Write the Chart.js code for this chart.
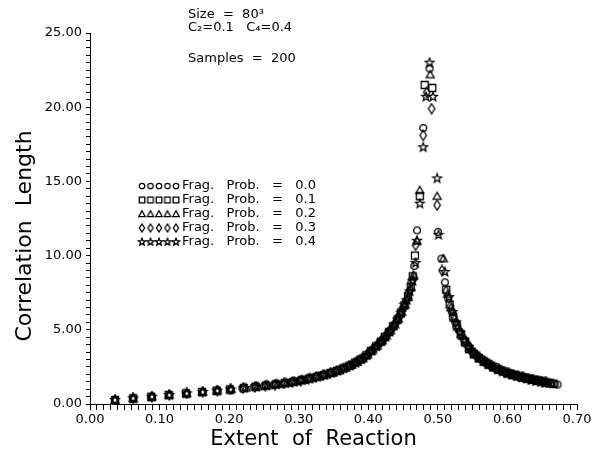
<!DOCTYPE html>
<html>
<head>
<meta charset="utf-8">
<script src="https://cdn.jsdelivr.net/npm/chart.js@4"></script>
<style>
  html, body { margin: 0; padding: 0; background: #fff; }
  #wrap { width: 613px; height: 452px; position: relative; }
</style>
</head>
<body>
<div id="wrap"><canvas id="myChart"></canvas></div>
<script>
// Frag. Prob. labels and marker per series
const fragProbs = ["0.0", "0.1", "0.2", "0.3", "0.4"];
const markerStyles = ["circle", "square", "triangle", "diamond", "star"];

// Frag. Prob. = 0.0 (circles)
const extent00 = [0.036,0.062,0.089,0.114,0.139,0.162,0.183,0.202,0.219,0.235,0.250,0.264,0.277,0.289,0.301,0.312,0.323,0.333,0.343,0.352,0.361,0.370,0.378,0.386,0.394,0.401,0.408,0.415,0.421,0.427,0.433,0.439,0.444,0.449,0.454,0.458,0.462,0.466,0.470,0.479,0.488,0.500,0.505,0.510,0.515,0.520,0.525,0.531,0.537,0.543,0.549,0.556,0.563,0.570,0.577,0.584,0.591,0.598,0.605,0.612,0.619,0.626,0.633,0.640,0.646,0.652,0.658,0.663,0.668,0.672];
const corr00 = [0.27,0.38,0.49,0.61,0.72,0.81,0.90,0.98,1.06,1.14,1.22,1.30,1.38,1.47,1.57,1.68,1.80,1.91,2.05,2.18,2.33,2.50,2.68,2.90,3.15,3.45,3.75,4.05,4.35,4.70,5.05,5.45,5.90,6.40,6.95,7.50,8.20,9.30,11.7,18.6,22.6,11.6,9.8,8.2,7.1,6.2,5.5,4.9,4.35,3.9,3.5,3.2,2.95,2.72,2.52,2.36,2.22,2.10,2.00,1.90,1.82,1.74,1.67,1.60,1.54,1.48,1.43,1.38,1.34,1.31];

// Frag. Prob. = 0.1 (squares)
const extent01 = [0.036,0.062,0.088,0.113,0.138,0.161,0.182,0.201,0.221,0.238,0.253,0.267,0.280,0.292,0.304,0.315,0.326,0.336,0.346,0.355,0.364,0.373,0.381,0.389,0.397,0.404,0.411,0.418,0.424,0.430,0.436,0.442,0.447,0.452,0.457,0.461,0.464,0.467,0.474,0.481,0.492,0.512,0.517,0.522,0.527,0.533,0.539,0.545,0.552,0.559,0.566,0.573,0.580,0.587,0.594,0.601,0.608,0.615,0.622,0.629,0.636,0.643,0.649,0.655,0.661,0.666];
const corr01 = [0.27,0.38,0.49,0.61,0.72,0.81,0.90,0.98,1.07,1.16,1.24,1.32,1.40,1.49,1.60,1.71,1.83,1.95,2.09,2.23,2.40,2.58,2.78,3.00,3.28,3.58,3.88,4.20,4.52,4.85,5.25,5.70,6.15,6.65,7.25,7.90,8.60,10.0,14.0,21.5,21.3,7.7,6.7,5.9,5.3,4.7,4.2,3.7,3.35,3.1,2.88,2.68,2.50,2.34,2.20,2.08,1.97,1.88,1.80,1.72,1.65,1.58,1.52,1.46,1.41,1.37];

// Frag. Prob. = 0.2 (triangles)
const extent02 = [0.036,0.062,0.089,0.114,0.139,0.162,0.183,0.203,0.224,0.241,0.256,0.270,0.283,0.295,0.307,0.318,0.329,0.339,0.349,0.358,0.367,0.376,0.384,0.392,0.399,0.406,0.413,0.420,0.426,0.432,0.438,0.443,0.448,0.453,0.457,0.461,0.465,0.470,0.474,0.489,0.499,0.508,0.514,0.519,0.524,0.529,0.535,0.541,0.547,0.554,0.561,0.568,0.575,0.582,0.589,0.596,0.603,0.610,0.617,0.624,0.631,0.638,0.645,0.651,0.657,0.663];
const corr02 = [0.27,0.38,0.49,0.61,0.72,0.81,0.90,0.99,1.09,1.18,1.26,1.34,1.42,1.52,1.62,1.74,1.86,1.98,2.12,2.27,2.43,2.62,2.83,3.06,3.32,3.62,3.93,4.27,4.60,4.95,5.35,5.75,6.20,6.70,7.20,7.85,8.70,11.0,14.4,22.2,14.0,9.8,7.4,6.5,5.8,5.2,4.6,4.1,3.7,3.35,3.05,2.82,2.62,2.44,2.29,2.16,2.04,1.94,1.85,1.77,1.69,1.62,1.55,1.49,1.44,1.39];

// Frag. Prob. = 0.3 (diamonds)
const extent03 = [0.036,0.062,0.089,0.114,0.139,0.162,0.183,0.202,0.220,0.237,0.252,0.266,0.279,0.291,0.303,0.314,0.325,0.335,0.345,0.354,0.363,0.372,0.380,0.388,0.396,0.403,0.410,0.417,0.423,0.429,0.435,0.441,0.446,0.451,0.456,0.460,0.464,0.468,0.479,0.484,0.491,0.499,0.506,0.512,0.518,0.523,0.528,0.534,0.540,0.546,0.553,0.560,0.567,0.574,0.581,0.588,0.595,0.602,0.609,0.616,0.623,0.630,0.637,0.644,0.650,0.656];
const corr03 = [0.27,0.38,0.49,0.61,0.72,0.81,0.90,0.98,1.07,1.15,1.23,1.31,1.39,1.48,1.58,1.70,1.82,1.94,2.07,2.21,2.37,2.55,2.74,2.96,3.22,3.52,3.82,4.15,4.45,4.80,5.15,5.60,6.05,6.55,7.10,7.70,8.40,10.7,18.1,21.0,19.9,13.4,9.0,7.6,6.6,5.9,5.3,4.7,4.25,3.85,3.45,3.15,2.90,2.68,2.49,2.33,2.19,2.07,1.97,1.87,1.79,1.71,1.64,1.57,1.51,1.46];

// Frag. Prob. = 0.4 (stars)
const extent04 = [0.036,0.062,0.089,0.114,0.139,0.162,0.183,0.202,0.222,0.239,0.254,0.268,0.281,0.293,0.305,0.316,0.327,0.337,0.347,0.356,0.365,0.374,0.382,0.390,0.398,0.405,0.412,0.419,0.425,0.431,0.437,0.442,0.447,0.452,0.456,0.460,0.464,0.468,0.470,0.474,0.479,0.483,0.488,0.493,0.499,0.501,0.510,0.516,0.521,0.526,0.532,0.538,0.544,0.551,0.558,0.565,0.572,0.579,0.586,0.593,0.600,0.607,0.614,0.621,0.628,0.635,0.642,0.648,0.654];
const corr04 = [0.27,0.38,0.49,0.61,0.72,0.81,0.90,0.98,1.08,1.17,1.25,1.33,1.41,1.50,1.61,1.72,1.84,1.96,2.10,2.25,2.41,2.59,2.80,3.03,3.30,3.60,3.90,4.23,4.55,4.90,5.30,5.70,6.15,6.70,7.00,7.60,8.30,9.5,11.0,13.5,17.3,20.7,23.0,20.7,15.2,11.4,8.9,7.2,6.2,5.5,4.8,4.3,3.85,3.45,3.15,2.90,2.68,2.49,2.33,2.19,2.07,1.97,1.88,1.79,1.71,1.64,1.57,1.51,1.46];

const extents = [extent00, extent01, extent02, extent03, extent04];
const corrs = [corr00, corr01, corr02, corr03, corr04];

// annotation lines in the top left of the plot
const infoLines = ["Size  =  80\u00B3", "C\u2082=0.1   C\u2084=0.4", "", "Samples  =  200"];

const FONT = "'DejaVu Sans', sans-serif";

// hollow marker drawn onto a small canvas, used as point style
const makeMarker = (style, s) => {
  const size = Math.ceil(12 * s);
  const c = document.createElement("canvas");
  c.width = size;
  c.height = size;
  const g = c.getContext("2d");
  const m = size / 2;
  g.strokeStyle = "#000";
  g.lineWidth = 1.3;
  g.beginPath();
  if (style === "circle") {
    g.arc(m, m, 3.4 * s, 0, Math.PI * 2);
  } else if (style === "square") {
    g.rect(m - 3.5 * s, m - 3.5 * s, 7 * s, 7 * s);
  } else if (style === "triangle") {
    g.moveTo(m, m - 4 * s);
    g.lineTo(m + 4 * s, m + 3.2 * s);
    g.lineTo(m - 4 * s, m + 3.2 * s);
    g.closePath();
  } else if (style === "diamond") {
    g.moveTo(m, m - 5 * s);
    g.lineTo(m + 3.2 * s, m);
    g.lineTo(m, m + 5 * s);
    g.lineTo(m - 3.2 * s, m);
    g.closePath();
  } else {
    for (let i = 0; i < 10; i++) {
      const r = i % 2 === 0 ? 4.6 * s : 2 * s;
      const a = -Math.PI / 2 + (i * Math.PI) / 5;
      const px = m + r * Math.cos(a);
      const py = m + r * Math.sin(a);
      if (i === 0) g.moveTo(px, py);
      else g.lineTo(px, py);
    }
    g.closePath();
  }
  g.stroke();
  return c;
};

const plotMarkers = markerStyles.map((st) => makeMarker(st, 1));
const legendMarkers = markerStyles.map((st) => makeMarker(st, 0.8));

const toPoints = (xs, ys) => xs.map((x, i) => ({ x: x, y: ys[i] }));

const datasets = fragProbs.map((p, i) => ({
  label: "Frag. Prob. = " + p,
  data: toPoints(extents[i], corrs[i]),
  pointStyle: plotMarkers[i],
  pointRadius: 4,
  showLine: false,
}));

const isMajor = (v, step) => Math.abs(v / step - Math.round(v / step)) < 1e-6;

const notesPlugin = {
  id: "notes",
  afterDraw(chart) {
    const ctx = chart.ctx;
    ctx.save();
    ctx.fillStyle = "#000";
    ctx.font = "13px " + FONT;
    ctx.textBaseline = "middle";
    ctx.textAlign = "left";
    const infoY = [15, 28, 0, 59];
    infoLines.forEach((t, i) => {
      if (t) ctx.fillText(t, 188, infoY[i]);
    });
    // legend block
    fragProbs.forEach((p, i) => {
      const y = 186 + i * 14;
      for (let k = 0; k < 5; k++) {
        const mk = legendMarkers[i];
        ctx.drawImage(mk, 142 + k * 8.5 - mk.width / 2, y - mk.height / 2);
      }
      ctx.fillText("Frag.   Prob.   =   " + p, 182, y);
    });
    ctx.restore();
  },
};

const ctx = document.getElementById("myChart");
const config = {
  type: "scatter",
  data: { datasets: datasets },
  options: {
    responsive: true,
    maintainAspectRatio: false,
    animation: false,
    layout: { padding: { top: 33, right: 36, left: 0, bottom: 0 } },
    plugins: {
      legend: { display: false },
      tooltip: { enabled: false },
    },
    elements: {
      point: { borderColor: "#000", backgroundColor: "rgba(0,0,0,0)" },
    },
    scales: {
      x: {
        type: "linear",
        min: 0,
        max: 0.7,
        afterFit: (s) => { s.height = 48; },
        border: { display: true, color: "#000", width: 1 },
        grid: { drawOnChartArea: false, color: "#000", tickLength: 6 },
        ticks: {
          stepSize: 0.01,
          autoSkip: false,
          maxRotation: 0,
          padding: 2,
          color: "#000",
          font: { family: FONT, size: 13 },
          callback: (v) => (isMajor(v, 0.1) ? v.toFixed(2) : ""),
        },
        title: {
          display: true,
          text: "Extent  of  Reaction      ",
          color: "#000",
          font: { family: FONT, size: 21 },
          padding: { top: 0, bottom: 0 },
        },
      },
      y: {
        type: "linear",
        min: 0,
        max: 25,
        afterFit: (s) => { s.width = 90; },
        border: { display: true, color: "#000", width: 1 },
        grid: { drawOnChartArea: false, color: "#000", tickLength: 4 },
        ticks: {
          stepSize: 0.5,
          autoSkip: false,
          padding: 4,
          color: "#000",
          font: { family: FONT, size: 13 },
          callback: (v) => (isMajor(v, 5) ? v.toFixed(2) : ""),
        },
        title: {
          display: true,
          text: "Correlation  Length     ",
          color: "#000",
          font: { family: FONT, size: 22 },
          padding: { top: 12, bottom: 0 },
        },
      },
    },
  },
  plugins: [notesPlugin],
};

new Chart(ctx, config);
</script>
</body>
</html>
